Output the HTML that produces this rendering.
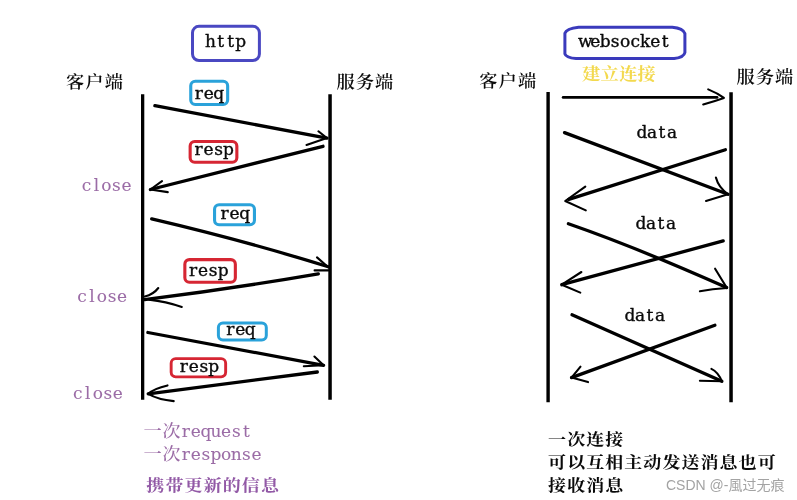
<!DOCTYPE html>
<html lang="zh-CN">
<head>
<meta charset="utf-8">
<title>http vs websocket</title>
<style>
html,body{margin:0;padding:0;background:#fff;}
body{width:797px;height:500px;overflow:hidden;position:relative;}
svg{display:block;position:absolute;left:0;top:0;filter:blur(0.45px);}
svg text{text-anchor:middle;}
svg text.c{font-family:"Liberation Serif","Noto Serif CJK SC",serif;}
svg text.l{font-family:"DejaVu Serif","Liberation Serif",serif;stroke-linejoin:round;}
.wm{position:absolute;left:666px;top:476px;font:14px/18px "Liberation Sans", "Noto Sans CJK SC", sans-serif;color:#a3a3a3;white-space:nowrap;text-shadow:0 0 2px #fff,0 0 2px #fff;}
</style>
</head>
<body>
<svg width="797" height="500" viewBox="0 0 797 500">
<rect x="192.5" y="26.3" width="66.9" height="34.2" rx="6.5" ry="6.5" fill="none" stroke="#4a48c2" stroke-width="3.0"/>
<text class="l" transform="scale(1.05,1)" x="200.57 210.1 219.62 229.14" y="46.8" fill="#0a0a0a" stroke="#0a0a0a" stroke-width="0.35" font-size="16.2" >http</text>
<text class="c" transform="scale(1.1,1)" x="68.32 85.86 103.41" y="87.8" fill="#0a0a0a" font-size="16.6" font-weight="600" >客户端</text>
<text class="c" transform="scale(1.1,1)" x="314.23 331.77 349.32" y="88.4" fill="#0a0a0a" font-size="16.6" font-weight="600" >服务端</text>
<g stroke="#000" fill="none" stroke-linecap="round" stroke-linejoin="round">
<path d="M142.65 94.3 V399.8" stroke-width="3.3" stroke-linecap="butt"/>
<path d="M330.05 94.3 V399.8" stroke-width="3.5" stroke-linecap="butt"/>
<path d="M154.9 105.7 L326.9 138.1" stroke-width="3.3"/>
<path d="M318.4 131.3 L326.9 138.1 L306.5 144.9" stroke-width="2.1"/>
<path d="M323 146.3 L150.4 189.5" stroke-width="3.3"/>
<path d="M162 181.1 L150.4 189.5 L167.8 192.1" stroke-width="2.1"/>
<path d="M151.7 218.9 Q245.6 240.9 328.3 266.8" stroke-width="3.3"/>
<path d="M317 257.4 L328.3 267.2 M314.6 270.4 L328.3 270.4" stroke-width="2.1"/>
<path d="M318.3 273.9 Q231.5 288.8 144.6 299.6" stroke-width="3.3"/>
<path d="M158.3 288 Q153.5 294.3 144.8 296.6 M149 299.6 Q166 301.6 181.8 306.9" stroke-width="2.1"/>
<path d="M147.9 332.5 L323.6 365.3" stroke-width="3.3"/>
<path d="M314.4 356.5 L323.6 365.3 L303.8 366.2" stroke-width="2.1"/>
<path d="M317.3 372 L148.2 393.8" stroke-width="3.3"/>
<path d="M167.5 385.4 Q154 388.5 148.2 393.8 Q158 399.5 173.7 401.1" stroke-width="2.1"/>
<path d="M548.1 92 V402.3" stroke-width="3.4" stroke-linecap="butt"/>
<path d="M731.05 92.2 V402.3" stroke-width="3.5" stroke-linecap="butt"/>
<path d="M563.2 97.4 L717 97.4" stroke-width="2.9"/>
<path d="M708.2 89.4 Q717.6 93.2 723.9 97.9 Q715.1 101 703.2 104.5" stroke-width="2.1"/>
<path d="M564.5 132.6 L728 194.3" stroke-width="3.3"/>
<path d="M715.9 177.6 Q718.5 187.5 728 194.3 L706 200.9" stroke-width="2.1"/>
<path d="M725.4 149.7 L568.8 199.4" stroke-width="3.3"/>
<path d="M585.3 186.6 L565.2 201 L585.8 210.4" stroke-width="2.1"/>
<path d="M568.4 223.8 Q636 247.2 726.6 287.6" stroke-width="3.3"/>
<path d="M715.1 268.7 L726.9 288 Q712 289 699.9 291.3" stroke-width="2.1"/>
<path d="M723.2 240.9 L561.8 284.7" stroke-width="3.3"/>
<path d="M581.4 272 L561.8 284.7 L580.3 292.6" stroke-width="2.1"/>
<path d="M572 314.8 L721.9 381.3" stroke-width="3.3"/>
<path d="M711.4 368.9 Q718 372 721.9 381.3 L699.9 380.8" stroke-width="2.1"/>
<path d="M714.9 325.3 L571.5 377.6" stroke-width="3.3"/>
<path d="M580.5 366.7 L571.5 377.6 L588 382.1" stroke-width="2.1"/>
</g>
<rect x="190.75" y="81.25" width="36.9" height="23.3" rx="4.5" ry="4.5" fill="none" stroke="#2aa2da" stroke-width="3.1"/>
<text class="l" transform="scale(1.05,1)" x="189.33 198.86 208.38" y="99.5" fill="#0a0a0a" stroke="#0a0a0a" stroke-width="0.35" font-size="16.2" >req</text>
<rect x="190.15" y="141.45" width="46.7" height="20.8" rx="4.5" ry="4.5" fill="none" stroke="#d62633" stroke-width="3.1"/>
<text class="l" transform="scale(1.05,1)" x="189.05 198.57 208.1 217.62" y="155.1" fill="#0a0a0a" stroke="#0a0a0a" stroke-width="0.35" font-size="16.2" >resp</text>
<text class="l" transform="scale(1.05,1)" x="82.38 91.9 101.43 110.95 120.48" y="191.5" fill="#9b6ca6" stroke="#9b6ca6" stroke-width="0.08" font-size="16.2" >close</text>
<rect x="214.55" y="204.75" width="39.9" height="20.0" rx="4.5" ry="4.5" fill="none" stroke="#2aa2da" stroke-width="3.1"/>
<text class="l" transform="scale(1.05,1)" x="213.9 223.43 232.95" y="218.9" fill="#0a0a0a" stroke="#0a0a0a" stroke-width="0.35" font-size="16.2" >req</text>
<rect x="184.85" y="259.65" width="50.5" height="22.6" rx="4.5" ry="4.5" fill="none" stroke="#d62633" stroke-width="3.1"/>
<text class="l" transform="scale(1.05,1)" x="183.9 193.43 202.95 212.48" y="276.3" fill="#0a0a0a" stroke="#0a0a0a" stroke-width="0.35" font-size="16.2" >resp</text>
<text class="l" transform="scale(1.05,1)" x="78.1 87.62 97.14 106.67 116.19" y="302" fill="#9b6ca6" stroke="#9b6ca6" stroke-width="0.08" font-size="16.2" >close</text>
<rect x="218.4" y="323.0" width="47.9" height="16.9" rx="4.5" ry="4.5" fill="none" stroke="#2aa2da" stroke-width="3.0"/>
<text class="l" transform="scale(1.05,1)" x="219.24 228.76 238.29" y="335.3" fill="#0a0a0a" stroke="#0a0a0a" stroke-width="0.35" font-size="16.2" >req</text>
<rect x="171.15" y="358.65" width="54.5" height="18.2" rx="4.5" ry="4.5" fill="none" stroke="#d62633" stroke-width="2.9"/>
<text class="l" transform="scale(1.05,1)" x="175.05 184.57 194.1 203.62" y="372" fill="#0a0a0a" stroke="#0a0a0a" stroke-width="0.35" font-size="16.2" >resp</text>
<text class="l" transform="scale(1.05,1)" x="74.1 83.62 93.14 102.67 112.19" y="398.7" fill="#9b6ca6" stroke="#9b6ca6" stroke-width="0.08" font-size="16.2" >close</text>
<text class="c" transform="scale(1.1,1)" x="138.77 155.77" y="436.6" fill="#9b6ca6" font-size="16.6" font-weight="500" >一次</text>
<text class="l" transform="scale(1.05,1)" x="176.9 186.52 196.14 205.76 215.38 225.0 234.62" y="436.6" fill="#9b6ca6" stroke="#9b6ca6" stroke-width="0.08" font-size="16.2" >request</text>
<text class="c" transform="scale(1.1,1)" x="138.77 155.77" y="460.4" fill="#9b6ca6" font-size="16.6" font-weight="500" >一次</text>
<text class="l" transform="scale(1.05,1)" x="176.9 186.52 196.14 205.76 215.38 225.0 234.62 244.24" y="460.4" fill="#9b6ca6" stroke="#9b6ca6" stroke-width="0.08" font-size="16.2" >response</text>
<text class="c" transform="scale(1.1,1)" x="141.23 158.59 175.95 193.32 210.68 228.05 245.41" y="491" fill="#9259a6" font-size="16.4" font-weight="700" >携带更新的信息</text>
<path d="M578.6 27.3 L672.3 27.3 Q683 28.3 684.9 33.5 L684.9 52.5 Q684 57.3 674.2 58.6 L576 58.6 Q566 57.6 564.9 53.8 L564.9 33.2 Q566.5 28.6 578.6 27.3 Z" fill="none" stroke="#3a3abc" stroke-width="3" stroke-linejoin="round"/>
<text class="l" transform="scale(1.05,1)" x="557.33 566.86 576.38 585.9 595.43 604.95 614.48 624.0 633.52" y="47.3" fill="#0a0a0a" stroke="#0a0a0a" stroke-width="0.35" font-size="16.2" >websocket</text>
<text class="c" transform="scale(1.1,1)" x="444.05 461.59 479.14" y="87.5" fill="#0a0a0a" font-size="16.6" font-weight="600" >客户端</text>
<text class="c" transform="scale(1.1,1)" x="677.86 695.41 712.95" y="82.8" fill="#0a0a0a" font-size="16.6" font-weight="600" >服务端</text>
<text class="c" transform="scale(1.1,1)" x="537.5 554.32 571.14 587.95" y="80.3" fill="#f3d94e" font-size="16.6" font-weight="700" >建立连接</text>
<text class="l" transform="scale(1.05,1)" x="611.43 620.95 630.48 640.0" y="138" fill="#0a0a0a" stroke="#0a0a0a" stroke-width="0.35" font-size="16.2" >data</text>
<text class="l" transform="scale(1.05,1)" x="610.48 620.0 629.52 639.05" y="229.2" fill="#0a0a0a" stroke="#0a0a0a" stroke-width="0.35" font-size="16.2" >data</text>
<text class="l" transform="scale(1.05,1)" x="600.0 609.52 619.05 628.57" y="321.4" fill="#0a0a0a" stroke="#0a0a0a" stroke-width="0.35" font-size="16.2" >data</text>
<text class="c" transform="scale(1.1,1)" x="506.47 523.79 541.11 558.43" y="445.2" fill="#0a0a0a" font-size="16.4" font-weight="700" >一次连接</text>
<text class="c" transform="scale(1.1,1)" x="506.47 523.79 541.11 558.43 575.75 593.06 610.38 627.7 645.02 662.34 679.65 696.97" y="468" fill="#0a0a0a" font-size="16.4" font-weight="700" >可以互相主动发送消息也可</text>
<text class="c" transform="scale(1.1,1)" x="506.47 523.79 541.11 558.43" y="491.2" fill="#0a0a0a" font-size="16.4" font-weight="700" >接收消息</text>
</svg>
<div class="wm">CSDN @-風过无痕</div>
</body>
</html>
